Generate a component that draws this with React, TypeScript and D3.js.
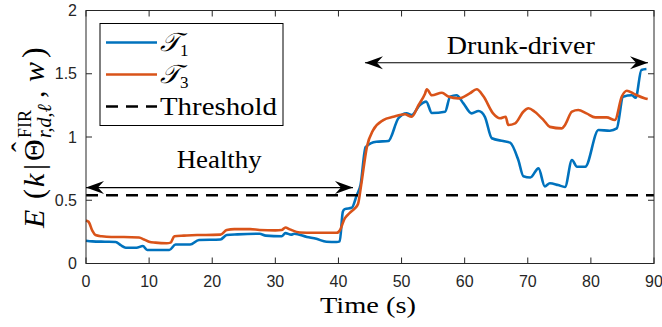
import React from "react";
import * as d3 from "d3";

// Series T1 (time in s, value)
const TIME_T1 = [0, 1, 3, 4.7, 5.5, 6.3, 8.0, 9.0, 9.7, 11, 13.2, 14.2, 16.5, 17.9, 21.3, 22.3, 24, 27.5, 28.5, 31, 31.6, 32.5, 33, 35, 36.5, 38.1, 39.7, 40.2, 40.7, 41, 42.1, 42.9, 43.5, 44.3, 46, 47.9, 49.5, 50.8, 51.6, 52.9, 53.9, 54.8, 56.9, 57.7, 58.7, 59.8, 61.1, 62.2, 63.2, 64.3, 66.1, 67.2, 68.5, 69.3, 70.4, 71.7, 72.7, 73.5, 74.8, 75.9, 77.0, 77.8, 79.1, 81.2, 83, 84.1, 85.1, 86.5, 87.1, 88.0, 88.8];
const VAL_T1 = [0.18, 0.175, 0.172, 0.17, 0.145, 0.125, 0.125, 0.138, 0.107, 0.107, 0.107, 0.15, 0.15, 0.186, 0.19, 0.225, 0.23, 0.235, 0.22, 0.215, 0.24, 0.228, 0.235, 0.21, 0.195, 0.172, 0.17, 0.175, 0.41, 0.43, 0.44, 0.54, 0.62, 0.92, 0.963, 0.968, 1.148, 1.187, 1.174, 1.253, 1.28, 1.19, 1.2, 1.319, 1.33, 1.266, 1.187, 1.205, 1.16, 0.99, 0.968, 0.955, 0.818, 0.69, 0.68, 0.752, 0.61, 0.634, 0.62, 0.605, 0.818, 0.765, 0.765, 1.055, 1.05, 1.068, 1.319, 1.33, 1.31, 1.53, 1.537];

// Series T3 (time in s, value)
const TIME_T3 = [0, 0.4, 1.0, 1.5, 2.5, 4, 6, 8.4, 9.2, 10, 11, 12.8, 13.4, 14, 15.5, 17.6, 19, 21.3, 22.3, 23.5, 26, 27.5, 30, 31, 31.6, 32.3, 33.9, 36, 38, 39.7, 40.2, 41.0, 41.8, 42.6, 43.1, 43.6, 44.5, 45.5, 47.1, 48.7, 50.5, 51.6, 52.7, 53.7, 54.0, 54.8, 56.4, 57.4, 59.0, 60.8, 61.9, 63, 64.5, 65.6, 66.5, 66.9, 68, 69.3, 70.1, 71.1, 72.5, 73.5, 75.4, 75.9, 77, 78, 79.3, 80.7, 82.5, 83.8, 84.9, 85.7, 86.7, 87.3, 88.6, 89];
const VAL_T3 = [0.34, 0.33, 0.26, 0.225, 0.215, 0.21, 0.21, 0.205, 0.19, 0.172, 0.165, 0.16, 0.165, 0.215, 0.22, 0.225, 0.225, 0.228, 0.265, 0.272, 0.272, 0.265, 0.262, 0.265, 0.285, 0.27, 0.245, 0.243, 0.243, 0.243, 0.26, 0.357, 0.40, 0.436, 0.47, 0.62, 0.92, 1.055, 1.134, 1.16, 1.18, 1.16, 1.253, 1.34, 1.377, 1.33, 1.35, 1.32, 1.305, 1.345, 1.377, 1.32, 1.187, 1.148, 1.16, 1.095, 1.108, 1.2, 1.227, 1.2, 1.134, 1.08, 1.068, 1.095, 1.2, 1.213, 1.187, 1.155, 1.155, 1.134, 1.32, 1.366, 1.345, 1.33, 1.305, 1.3];

const THRESHOLD = 0.54;
const HEALTHY_SPAN = [0, 42.3];
const HEALTHY_LEVEL = 0.6;
const DRUNK_SPAN = [44.2, 89.05];
const DRUNK_LEVEL = 1.587;

const X_TICKS = [0, 10, 20, 30, 40, 50, 60, 70, 80, 90];
const Y_TICKS = [0, 0.5, 1, 1.5, 2];
const Y_TICK_LABELS = ["0", "0.5", "1", "1.5", "2"];

const W = 662;
const H = 327;
const PLOT = { left: 86, right: 654, top: 10.5, bottom: 263.5 };

const BLUE = "#0072BD";
const ORANGE = "#D95319";
const AXIS = "#262626";
const SERIF = '"Liberation Serif", "Times New Roman", serif';
const SANS = '"Liberation Sans", Arial, Helvetica, sans-serif';

function arrowHead(tipX: number, tipY: number, dir: number) {
  // dir = +1 points right, -1 points left
  const L = 18;
  const hw = 6.5;
  const notch = 12;
  return `M${tipX},${tipY} L${tipX - dir * L},${tipY - hw} L${tipX - dir * notch},${tipY} L${tipX - dir * L},${tipY + hw} Z`;
}

const serif = { fontFamily: SERIF, fontWeight: 400 } as React.CSSProperties;
const sans = { fontFamily: SANS } as React.CSSProperties;

export default function App() {
  const x = d3.scaleLinear().domain([0, 90]).range([PLOT.left, PLOT.right]);
  const y = d3.scaleLinear().domain([0, 2]).range([PLOT.bottom, PLOT.top]);

  const line = d3
    .line<[number, number]>()
    .x((d) => x(d[0]))
    .y((d) => y(d[1]))
    .curve(d3.curveMonotoneX);

  const t1 = TIME_T1.map((t, i) => [t, VAL_T1[i]] as [number, number]);
  const t3 = TIME_T3.map((t, i) => [t, VAL_T3[i]] as [number, number]);

  const tickLen = 6;

  const hx0 = x(HEALTHY_SPAN[0]);
  const hx1 = x(HEALTHY_SPAN[1]);
  const hy = y(HEALTHY_LEVEL);
  const dx0 = x(DRUNK_SPAN[0]);
  const dx1 = x(DRUNK_SPAN[1]);
  const dy = y(DRUNK_LEVEL);

  // y-axis label, laid out along the rotated baseline (u = -screen y)
  const labelBase = 44;
  const lab = (u: number) => -u;

  return (
    <svg
      width={W}
      height={H}
      viewBox={`0 0 ${W} ${H}`}
      style={{ position: "absolute", left: 0, top: 0, background: "#fff" }}
    >
      <rect x={0} y={0} width={W} height={H} fill="#fff" />

      {/* series */}
      <path d={line(t1) || ""} fill="none" stroke={BLUE} strokeWidth={2.6} strokeLinejoin="round" />
      <path d={line(t3) || ""} fill="none" stroke={ORANGE} strokeWidth={2.6} strokeLinejoin="round" />

      {/* threshold */}
      <line
        x1={x(0)}
        x2={x(90)}
        y1={y(THRESHOLD)}
        y2={y(THRESHOLD)}
        stroke="#000"
        strokeWidth={2.6}
        strokeDasharray="12 8"
      />

      {/* axes box */}
      <rect
        x={PLOT.left}
        y={PLOT.top}
        width={PLOT.right - PLOT.left}
        height={PLOT.bottom - PLOT.top}
        fill="none"
        stroke={AXIS}
        strokeWidth={1}
      />
      {X_TICKS.map((t) => (
        <g key={"xt" + t}>
          <line x1={x(t)} x2={x(t)} y1={PLOT.bottom} y2={PLOT.bottom - tickLen} stroke={AXIS} />
          <line x1={x(t)} x2={x(t)} y1={PLOT.top} y2={PLOT.top + tickLen} stroke={AXIS} />
          <text x={x(t)} y={287} textAnchor="middle" style={sans} fontSize={16} fill={AXIS}>
            {t}
          </text>
        </g>
      ))}
      {Y_TICKS.map((v, i) => (
        <g key={"yt" + v}>
          <line x1={PLOT.left} x2={PLOT.left + tickLen} y1={y(v)} y2={y(v)} stroke={AXIS} />
          <line x1={PLOT.right} x2={PLOT.right - tickLen} y1={y(v)} y2={y(v)} stroke={AXIS} />
          <text x={77} y={y(v) + 5.5} textAnchor="end" style={sans} fontSize={16} fill={AXIS}>
            {Y_TICK_LABELS[i]}
          </text>
        </g>
      ))}

      {/* x-axis title */}
      <text
        x={368}
        y={313}
        textAnchor="middle"
        style={serif}
        fontSize={24}
        fill="#000"
        textLength={96}
        lengthAdjust="spacingAndGlyphs"
      >
        Time (s)
      </text>

      {/* y-axis title */}
      <g transform={`translate(${labelBase},0) rotate(-90)`} style={serif} fill="#000">
        <text x={lab(228)} y={0} fontSize={30} fontStyle="italic">E</text>
        <text x={lab(199)} y={0} fontSize={30}>(</text>
        <text x={lab(187)} y={0} fontSize={30} fontStyle="italic">k</text>
        <text x={lab(170)} y={0} fontSize={30}>|</text>
        <text x={lab(161)} y={0} fontSize={30}>Θ</text>
        <text x={lab(152)} y={-12} fontSize={30}>ˆ</text>
        <text x={lab(138)} y={-13} fontSize={18}>FIR</text>
        <text x={lab(138)} y={7} fontSize={20} fontStyle="italic">r,d,ℓ</text>
        <text x={lab(98)} y={0} fontSize={30}>,</text>
        <text x={lab(82)} y={0} fontSize={30} fontStyle="italic">w</text>
        <text x={lab(58)} y={0} fontSize={32}>)</text>
      </g>

      {/* annotations */}
      <line x1={hx0} x2={hx1} y1={hy} y2={hy} stroke="#000" strokeWidth={1.2} />
      <path d={arrowHead(hx0, hy, -1)} fill="#000" />
      <path d={arrowHead(hx1, hy, 1)} fill="#000" />
      <text
        x={x(21.1)}
        y={y(0.755)}
        textAnchor="middle"
        style={serif}
        fontSize={25}
        textLength={85}
        lengthAdjust="spacingAndGlyphs"
      >
        Healthy
      </text>

      <line x1={dx0} x2={dx1} y1={dy} y2={dy} stroke="#000" strokeWidth={1.2} />
      <path d={arrowHead(dx0, dy, -1)} fill="#000" />
      <path d={arrowHead(dx1, dy, 1)} fill="#000" />
      <text
        x={x(68.9)}
        y={y(1.656)}
        textAnchor="middle"
        style={serif}
        fontSize={25}
        textLength={148}
        lengthAdjust="spacingAndGlyphs"
      >
        Drunk-driver
      </text>

      {/* legend */}
      <rect x={100} y={23.5} width={183} height={102} fill="#fff" stroke="#000" strokeWidth={1} />
      <line x1={106} x2={157} y1={42.5} y2={42.5} stroke={BLUE} strokeWidth={2.6} />
      <text x={160} y={51} style={serif} fontSize={26} fontStyle="italic">
        𝒯<tspan fontSize={17} fontStyle="normal" dy={5}>1</tspan>
      </text>
      <line x1={106} x2={157} y1={74.5} y2={74.5} stroke={ORANGE} strokeWidth={2.6} />
      <text x={160} y={83} style={serif} fontSize={26} fontStyle="italic">
        𝒯<tspan fontSize={17} fontStyle="normal" dy={5}>3</tspan>
      </text>
      <line
        x1={106}
        x2={157}
        y1={106.5}
        y2={106.5}
        stroke="#000"
        strokeWidth={2.6}
        strokeDasharray="12 8"
      />
      <text
        x={160}
        y={115}
        style={serif}
        fontSize={25}
        textLength={117}
        lengthAdjust="spacingAndGlyphs"
      >
        Threshold
      </text>
    </svg>
  );
}
